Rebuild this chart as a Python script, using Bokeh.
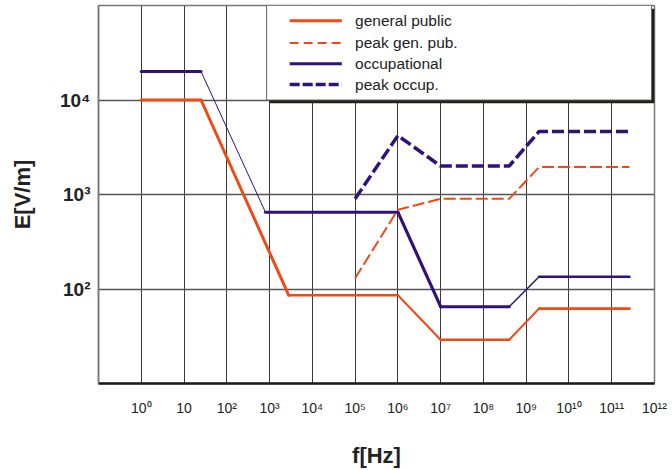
import numpy as np
from bokeh.plotting import figure
from bokeh.models import FixedTicker, CustomJSTickFormatter, ColumnDataSource
from bokeh.core.properties import value
from bokeh.embed import file_html
from bokeh.resources import INLINE

# ---- data ----
f_gp = [1, 25, 2800, 1e6, 1e7, 4e8, 2e9, 2.6e11]
E_gp = [1e4, 1e4, 86, 86, 29, 29, 62, 62]
f_occ = [1, 25, 800, 1e6, 1e7, 4e8, 2e9, 2.6e11]
E_occ = [2e4, 2e4, 650, 650, 65, 65, 135, 135]
f_peak = [1e5, 1e6, 1e7, 4e8, 2e9, 2.6e11]
E_peak_gp = [130, 690, 900, 900, 1950, 1950]
E_peak_occ = [900, 4200, 2000, 2000, 4650, 4650]

x_tick_exps = list(range(0, 13))
x_tick_labels = ["10⁰", "10", "10²", "10³", "10⁴", "10⁵", "10⁶", "10⁷", "10⁸",
                 "10⁹", "10¹⁰", "10¹¹", "10¹²"]
y_tick_exps = [2, 3, 4]
y_tick_labels = ["10²", "10³", "10⁴"]
legend_labels = ["general public", "peak gen. pub.", "occupational", "peak occup."]
x_title = "f[Hz]"
y_title = "E[V/m]"

# ---- styles ----
ORANGE = "#EF4A14"
PURPLE = "#30127A"
FONT = "Liberation Sans"
gp_widths = [3, 3, 2.6, 2, 2.6, 2, 2.6]
occ_widths = [3, 1, 3, 3.2, 3, 1.5, 2.6]

p = figure(width=670, height=470, x_axis_type="log", y_axis_type="log",
           x_range=(0.1, 1e12), y_range=(10, 1e5),
           output_backend="svg", toolbar_location=None,
           min_border_left=98, min_border_right=16, min_border_top=5,
           min_border_bottom=87)
p.background_fill_color = "white"
p.border_fill_color = "white"
p.outline_line_color = "#777777"
p.outline_line_width = 1.5

fmt_code = """
const e = Math.round(Math.log10(tick));
const k = exps.indexOf(e);
return k >= 0 ? labels[k] : "";
"""
p.xaxis.ticker = FixedTicker(ticks=[10.0 ** e for e in x_tick_exps])
p.xaxis.formatter = CustomJSTickFormatter(args=dict(exps=x_tick_exps, labels=x_tick_labels), code=fmt_code)
p.yaxis.ticker = FixedTicker(ticks=[10.0 ** e for e in y_tick_exps])
p.yaxis.formatter = CustomJSTickFormatter(args=dict(exps=y_tick_exps, labels=y_tick_labels), code=fmt_code)

for ax in (p.xaxis, p.yaxis):
    ax.major_tick_line_color = None
    ax.minor_tick_line_color = None
    ax.major_tick_out = 0
    ax.major_tick_in = 0
    ax.minor_tick_out = 0
    ax.minor_tick_in = 0
    ax.major_label_text_font = FONT
    ax.major_label_text_color = "#222222"
    ax.axis_label_text_font = FONT
    ax.axis_label_text_font_size = "22px"
    ax.axis_label_text_font_style = "bold"
    ax.axis_label_text_color = "#222222"

p.xaxis.axis_label = x_title
p.yaxis.axis_label = y_title

p.xaxis.axis_line_color = "#1a1a1a"
p.xaxis.axis_line_width = 2.5
p.xaxis.major_label_text_font_size = "14px"
p.xaxis.major_label_standoff = 16
p.xaxis.axis_label_standoff = 24
p.yaxis.axis_line_color = "#777777"
p.yaxis.axis_line_width = 1.5
p.yaxis.major_label_text_font_size = "19px"
p.yaxis.major_label_text_font_style = "bold"
p.yaxis.major_label_standoff = 8
p.yaxis.axis_label_standoff = 22

p.xgrid.grid_line_color = "#3a3a3a"
p.xgrid.grid_line_width = 1
p.ygrid.grid_line_color = "#555555"
p.ygrid.grid_line_width = 1.5

# ---- series ----
def segments(f, E, widths):
    xs, ys = [], []
    for i in range(len(f) - 1):
        xs.append([f[i], f[i + 1]])
        ys.append([E[i], E[i + 1]])
    return ColumnDataSource(dict(xs=xs, ys=ys, w=widths))

p.multi_line("xs", "ys", source=segments(f_gp, E_gp, gp_widths), line_color=ORANGE,
             line_width="w", line_join="round", line_cap="round")
p.multi_line("xs", "ys", source=segments(f_occ, E_occ, occ_widths), line_color=PURPLE,
             line_width="w", line_join="round", line_cap="round")
p.line(f_peak, E_peak_gp, line_color=ORANGE, line_width=2, line_dash="12 4")
p.line(f_peak, E_peak_occ, line_color=PURPLE, line_width=3.5, line_dash="12 4")

# ---- legend box (drawn in plot) ----
lx0, lx1 = 10 ** 2.93, 10 ** 11.93
p.quad(left=[lx0 * 10 ** 0.07], right=[lx1 * 10 ** 0.07], bottom=[10 ** (4 - 0.035)],
       top=[10 ** (5 - 0.035)], fill_color="#231f1a", line_color=None)
p.quad(left=[lx0], right=[lx1], bottom=[1e4], top=[1e5], fill_color="white",
       line_color="#666666", line_width=1)

rows = [4.839, 4.604, 4.384, 4.164]
styles = [(ORANGE, 3, "solid"), (ORANGE, 2, "9 5"), (PURPLE, 3, "solid"), (PURPLE, 3.5, "10 3")]
for r, (c, w, d) in zip(rows, styles):
    p.line([10 ** 3.47, 10 ** 4.69], [10 ** r, 10 ** r], line_color=c, line_width=w, line_dash=d)
p.text(x=[10 ** 5.0] * 4, y=[10 ** r for r in rows], text=legend_labels,
       text_font=value(FONT), text_font_size="15.5px", text_color="#222222",
       text_baseline="middle", text_align="left")

open("out.html", "w").write(file_html(p, INLINE))
